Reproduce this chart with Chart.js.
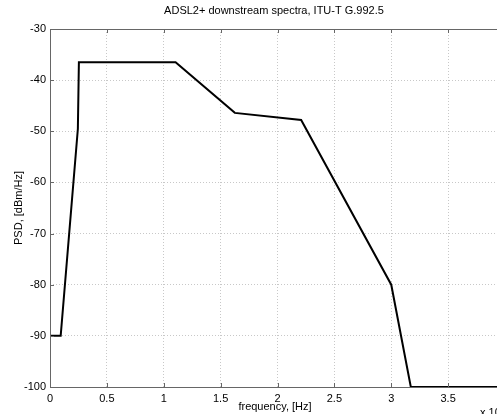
<!DOCTYPE html>
<html>
<head>
<meta charset="utf-8">
<script src="https://cdn.jsdelivr.net/npm/chart.js@4/dist/chart.umd.min.js"></script>
<style>
  html, body { margin: 0; padding: 0; background: #fff; overflow: hidden; }
  #wrap { width: 497px; height: 414px; overflow: hidden; }
</style>
</head>
<body>
<div id="wrap"><canvas id="psdChart" width="540" height="414"></canvas></div>
<script>
// ADSL2+ downstream PSD mask (frequency in MHz, PSD in dBm/Hz)
const freqMHz = [0, 0.094, 0.245, 0.254, 1.104, 1.625, 2.208, 3.0, 3.172, 4.0];
const psdDbm = [-90, -90, -49.5, -36.5, -36.5, -46.4, -47.8, -80, -100, -100];
const xTicks = [0, 0.5, 1, 1.5, 2, 2.5, 3, 3.5, 4];
const yTicks = [-100, -90, -80, -70, -60, -50, -40, -30];

const titleText = "ADSL2+ downstream spectra, ITU-T G.992.5";
const xLabel = "frequency, [Hz]";
const yLabel = "PSD, [dBm/Hz]";

const FONT = "11px 'Liberation Sans', Arial, sans-serif";

// Box, inner ticks and text drawn MATLAB style
const matlabFrame = {
  id: "matlabFrame",
  afterDraw(chart) {
    const { ctx, chartArea: a, scales } = chart;
    ctx.save();
    ctx.strokeStyle = "#666";
    ctx.lineWidth = 1;
    ctx.strokeRect(a.left + 0.5, a.top + 0.5, a.right - a.left, a.bottom - a.top);

    // inward tick marks
    ctx.beginPath();
    xTicks.forEach(v => {
      const px = Math.round(scales.x.getPixelForValue(v)) + 0.5;
      ctx.moveTo(px, a.bottom); ctx.lineTo(px, a.bottom - 4);
      ctx.moveTo(px, a.top); ctx.lineTo(px, a.top + 4);
    });
    yTicks.forEach(v => {
      const py = Math.round(scales.y.getPixelForValue(v)) + 0.5;
      ctx.moveTo(a.left, py); ctx.lineTo(a.left + 4, py);
      ctx.moveTo(a.right, py); ctx.lineTo(a.right - 4, py);
    });
    ctx.stroke();

    ctx.fillStyle = "#000";
    ctx.font = FONT;
    ctx.textAlign = "center";
    ctx.textBaseline = "middle";
    ctx.fillText(titleText, 274, 11);
    ctx.fillText(xLabel, 275, 407);

    ctx.save();
    ctx.translate(19, (a.top + a.bottom) / 2);
    ctx.rotate(-Math.PI / 2);
    ctx.fillText(yLabel, 0, 0);
    ctx.restore();

    // exponent label, cut off by the frame like the original
    ctx.textAlign = "left";
    ctx.fillText("x 10", 480, 413);
    ctx.font = "8px 'Liberation Sans', Arial, sans-serif";
    ctx.fillText("6", 501, 407);
    ctx.restore();
  }
};

const points = freqMHz.map((f, i) => ({ x: f, y: psdDbm[i] }));

new Chart(document.getElementById("psdChart"), {
  type: "scatter",
  data: {
    datasets: [{
      data: points,
      showLine: true,
      borderColor: "#000",
      borderWidth: 2,
      pointRadius: 0,
      fill: false,
      tension: 0
    }]
  },
  options: {
    responsive: false,
    animation: false,
    layout: { padding: { top: 29, right: 35, left: 0, bottom: 0 } },
    plugins: { legend: { display: false }, tooltip: { enabled: false }, title: { display: false } },
    scales: {
      x: {
        type: "linear",
        min: 0,
        max: 4,
        afterBuildTicks: s => { s.ticks = xTicks.map(v => ({ value: v })); },
        afterFit: s => { s.height = 27; },
        border: { display: false, dash: [1, 2] },
        grid: { color: "#c8c8c8", tickLength: 0, drawTicks: false },
        ticks: {
          color: "#000",
          font: { family: "'Liberation Sans', Arial, sans-serif", size: 11 },
          padding: 5,
          maxRotation: 0,
          callback: v => String(v)
        }
      },
      y: {
        type: "linear",
        min: -100,
        max: -30,
        afterBuildTicks: s => { s.ticks = yTicks.map(v => ({ value: v })); },
        afterFit: s => { s.width = 50; },
        border: { display: false, dash: [1, 2] },
        grid: { color: "#c8c8c8", tickLength: 0, drawTicks: false },
        ticks: {
          color: "#000",
          font: { family: "'Liberation Sans', Arial, sans-serif", size: 11 },
          padding: 4,
          callback: v => String(v)
        }
      }
    }
  },
  plugins: [matlabFrame]
});
</script>
</body>
</html>
